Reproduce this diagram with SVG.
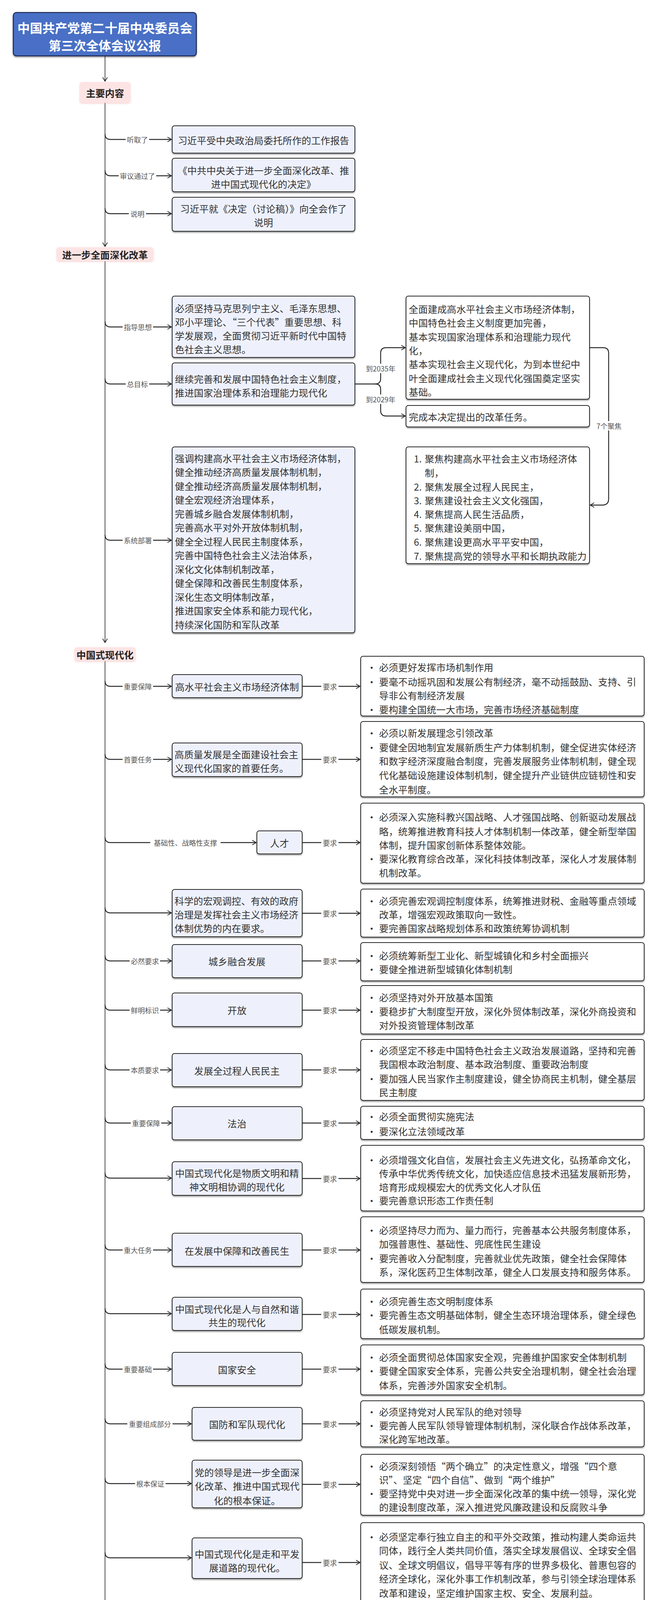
<svg xmlns="http://www.w3.org/2000/svg" width="1688" height="4959" viewBox="0 0 1688 4959">
<defs>
<style>
.t{font-family:"Noto Sans CJK SC","Noto Sans CJK JP",sans-serif;font-size:24.4px;fill:#333;dominant-baseline:central}
.c{text-anchor:middle}
.b{font-weight:bold;fill:#222}
.lb{font-family:"Noto Sans CJK SC","Noto Sans CJK JP",sans-serif;font-size:18px;fill:#555;dominant-baseline:central;text-anchor:middle}
.bx{fill:#eef1fc;stroke:#2a2a2a;stroke-width:2}
.wb{fill:#ffffff;stroke:#2a2a2a;stroke-width:2}
.pk{fill:#fde4e4}
.tr{fill:none;stroke:#222;stroke-width:1.6}
.br{fill:none;stroke:#2a2a2a;stroke-width:2.4}
.lbg{fill:#ffffff}
</style>
<filter id="sh" x="-5%" y="-10%" width="110%" height="130%"><feDropShadow dx="0" dy="3" stdDeviation="1.5" flood-color="#000" flood-opacity="0.35"/></filter>
<filter id="shp" x="-10%" y="-20%" width="120%" height="140%"><feDropShadow dx="0" dy="2" stdDeviation="2" flood-color="#f0b0b0" flood-opacity="0.6"/></filter>
<marker id="ar" viewBox="0 0 12 14" refX="11" refY="7" markerWidth="12" markerHeight="14" markerUnits="userSpaceOnUse" orient="auto"><path d="M1,1 L11,7 L1,13" fill="none" stroke="#222" stroke-width="1.8"/></marker>
</defs>
<rect width="1688" height="4959" fill="#ffffff"/>

<g id="connectors">
<path class="tr" d="M269,143 L269,208" marker-end="url(#ar)"/>
<path class="tr" d="M269,263 L269,631" marker-end="url(#ar)"/>
<path class="tr" d="M269,668 L269,1645" marker-end="url(#ar)"/>
<path class="tr" d="M269,1692 L269,4181" marker-end="url(#ar)"/>
<path class="tr" d="M269,4217 L269,4412" marker-end="url(#ar)"/>
<path class="tr" d="M269,4449 L269,4751" marker-end="url(#ar)"/>
<path class="br" d="M269,4788 L269,4824 Q269,4838 283,4838 L489,4838" marker-end="url(#ar)"/>
<path class="br" d="M269,343 Q269,357 283,357 L439,357" marker-end="url(#ar)"/>
<path class="br" d="M269,436 Q269,450 283,450 L439,450" marker-end="url(#ar)"/>
<path class="br" d="M269,533 Q269,547 283,547 L439,547" marker-end="url(#ar)"/>
<path class="br" d="M269,823 Q269,837 283,837 L439,837" marker-end="url(#ar)"/>
<path class="br" d="M269,969 Q269,983 283,983 L439,983" marker-end="url(#ar)"/>
<path class="br" d="M269,1369 Q269,1383 283,1383 L439,1383" marker-end="url(#ar)"/>
<path class="br" d="M909,983 L961,983 Q975,983 975,969 L975,904 Q975,890 989,890 L1038,890" marker-end="url(#ar)"/>
<path class="br" d="M961,983 Q975,983 975,997 L975,1051 Q975,1065 989,1065 L1038,1065" marker-end="url(#ar)"/>
<path class="br" d="M1510,890 L1545,890 Q1559,890 1559,904 L1559,1277 Q1559,1293 1543,1293 L1512,1293" marker-end="url(#ar)"/>
<path class="br" d="M269,1743 Q269,1757 283,1757 L439,1757" marker-end="url(#ar)"/>
<path class="br" d="M269,1930 Q269,1944 283,1944 L439,1944" marker-end="url(#ar)"/>
<path class="br" d="M269,2143 Q269,2157 283,2157 L656,2157" marker-end="url(#ar)"/>
<path class="br" d="M269,2323 Q269,2337 283,2337 L439,2337" marker-end="url(#ar)"/>
<path class="br" d="M269,2446 Q269,2460 283,2460 L439,2460" marker-end="url(#ar)"/>
<path class="br" d="M269,2572 Q269,2586 283,2586 L439,2586" marker-end="url(#ar)"/>
<path class="br" d="M269,2725 Q269,2739 283,2739 L439,2739" marker-end="url(#ar)"/>
<path class="br" d="M269,2861 Q269,2875 283,2875 L439,2875" marker-end="url(#ar)"/>
<path class="br" d="M269,3002 Q269,3016 283,3016 L439,3016" marker-end="url(#ar)"/>
<path class="br" d="M269,3186 Q269,3200 283,3200 L439,3200" marker-end="url(#ar)"/>
<path class="br" d="M269,3349 Q269,3363 283,3363 L439,3363" marker-end="url(#ar)"/>
<path class="br" d="M269,3491 Q269,3505 283,3505 L439,3505" marker-end="url(#ar)"/>
<path class="br" d="M269,3631 Q269,3645 283,3645 L490,3645" marker-end="url(#ar)"/>
<path class="br" d="M269,3784 Q269,3798 283,3798 L490,3798" marker-end="url(#ar)"/>
<path class="br" d="M269,3974 Q269,3988 283,3988 L490,3988" marker-end="url(#ar)"/>
<path class="br" d="M347,4200 L490,4200" marker-end="url(#ar)"/>
<path class="br" d="M269,4534 Q269,4548 283,4548 L489,4548" marker-end="url(#ar)"/>
<path class="br" d="M774,1757 L922,1757" marker-end="url(#ar)"/>
<path class="br" d="M774,1944 L922,1944" marker-end="url(#ar)"/>
<path class="br" d="M774,2157 L922,2157" marker-end="url(#ar)"/>
<path class="br" d="M774,2338 L922,2338" marker-end="url(#ar)"/>
<path class="br" d="M774,2460 L922,2460" marker-end="url(#ar)"/>
<path class="br" d="M774,2586 L922,2586" marker-end="url(#ar)"/>
<path class="br" d="M774,2739 L922,2739" marker-end="url(#ar)"/>
<path class="br" d="M774,2875 L922,2875" marker-end="url(#ar)"/>
<path class="br" d="M774,3017 L922,3017" marker-end="url(#ar)"/>
<path class="br" d="M774,3200 L922,3200" marker-end="url(#ar)"/>
<path class="br" d="M774,3365 L922,3365" marker-end="url(#ar)"/>
<path class="br" d="M774,3505 L922,3505" marker-end="url(#ar)"/>
<path class="br" d="M774,3645 L922,3645" marker-end="url(#ar)"/>
<path class="br" d="M774,3800 L922,3800" marker-end="url(#ar)"/>
<path class="br" d="M774,4000 L922,4000" marker-end="url(#ar)"/>
<path class="br" d="M774,4198 L922,4198" marker-end="url(#ar)"/>
<rect class="lbg" x="322" y="345" width="60" height="24"/><text class="lb" x="352" y="357">听取了</text>
<rect class="lbg" x="304" y="438" width="96" height="24"/><text class="lb" x="352" y="450">审议通过了</text>
<rect class="lbg" x="330" y="535" width="44" height="24"/><text class="lb" x="352" y="547">说明</text>
<rect class="lbg" x="314" y="825" width="78" height="24"/><text class="lb" x="353" y="837">指导思想</text>
<rect class="lbg" x="322" y="971" width="60" height="24"/><text class="lb" x="352" y="983">总目标</text>
<rect class="lbg" x="314" y="1371" width="78" height="24"/><text class="lb" x="353" y="1383">系统部署</text>
<rect class="lbg" x="935" y="931" width="80" height="24"/><text class="lb" x="975" y="943">到2035年</text>
<rect class="lbg" x="935" y="1010" width="80" height="24"/><text class="lb" x="975" y="1022">到2029年</text>
<rect class="lbg" x="1524" y="1078" width="72" height="24"/><text class="lb" x="1560" y="1090">7个聚焦</text>
<rect class="lbg" x="314" y="1745" width="78" height="24"/><text class="lb" x="353" y="1757">重要保障</text>
<rect class="lbg" x="314" y="1932" width="78" height="24"/><text class="lb" x="353" y="1944">首要任务</text>
<rect class="lbg" x="385" y="2145" width="180" height="24"/><text class="lb" x="475" y="2157">基础性、战略性支撑</text>
<rect class="lbg" x="332" y="2448" width="78" height="24"/><text class="lb" x="371" y="2460">必然要求</text>
<rect class="lbg" x="332" y="2574" width="78" height="24"/><text class="lb" x="371" y="2586">鲜明标识</text>
<rect class="lbg" x="332" y="2727" width="78" height="24"/><text class="lb" x="371" y="2739">本质要求</text>
<rect class="lbg" x="335" y="2863" width="78" height="24"/><text class="lb" x="374" y="2875">重要保障</text>
<rect class="lbg" x="314" y="3188" width="78" height="24"/><text class="lb" x="353" y="3200">重大任务</text>
<rect class="lbg" x="314" y="3493" width="78" height="24"/><text class="lb" x="353" y="3505">重要基础</text>
<rect class="lbg" x="326" y="3633" width="116" height="24"/><text class="lb" x="384" y="3645">重要组成部分</text>
<rect class="lbg" x="346" y="3786" width="78" height="24"/><text class="lb" x="385" y="3798">根本保证</text>
<rect class="lbg" x="366" y="4536" width="44" height="24"/><text class="lb" x="388" y="4548">要求</text>
<g id="req-labels">
<rect class="lbg" x="823" y="1745" width="44" height="24"/><text class="lb" x="845" y="1757">要求</text>
<rect class="lbg" x="823" y="1932" width="44" height="24"/><text class="lb" x="845" y="1944">要求</text>
<rect class="lbg" x="823" y="2145" width="44" height="24"/><text class="lb" x="845" y="2157">要求</text>
<rect class="lbg" x="823" y="2326" width="44" height="24"/><text class="lb" x="845" y="2338">要求</text>
<rect class="lbg" x="823" y="2448" width="44" height="24"/><text class="lb" x="845" y="2460">要求</text>
<rect class="lbg" x="823" y="2574" width="44" height="24"/><text class="lb" x="845" y="2586">要求</text>
<rect class="lbg" x="823" y="2727" width="44" height="24"/><text class="lb" x="845" y="2739">要求</text>
<rect class="lbg" x="823" y="2863" width="44" height="24"/><text class="lb" x="845" y="2875">要求</text>
<rect class="lbg" x="823" y="3005" width="44" height="24"/><text class="lb" x="845" y="3017">要求</text>
<rect class="lbg" x="823" y="3188" width="44" height="24"/><text class="lb" x="845" y="3200">要求</text>
<rect class="lbg" x="823" y="3353" width="44" height="24"/><text class="lb" x="845" y="3365">要求</text>
<rect class="lbg" x="823" y="3493" width="44" height="24"/><text class="lb" x="845" y="3505">要求</text>
<rect class="lbg" x="823" y="3633" width="44" height="24"/><text class="lb" x="845" y="3645">要求</text>
<rect class="lbg" x="823" y="3788" width="44" height="24"/><text class="lb" x="845" y="3800">要求</text>
<rect class="lbg" x="823" y="3988" width="44" height="24"/><text class="lb" x="845" y="4000">要求</text>
<rect class="lbg" x="823" y="4186" width="44" height="24"/><text class="lb" x="845" y="4198">要求</text>
</g>
</g>

<g id="title">
<rect x="34" y="32" width="469" height="111" rx="8" fill="#4a70c6" stroke="#1e2a55" stroke-width="2.5" filter="url(#sh)"/>
<text class="t c" x="268.5" y="70" style="font-size:32px;font-weight:bold;fill:#fff">中国共产党第二十届中央委员会</text>
<text class="t c" x="268.5" y="115" style="font-size:32px;font-weight:bold;fill:#fff">第三次全体会议公报</text>
</g>

<g id="n-main"><rect class="pk" x="204" y="210" width="130" height="53" rx="6" filter="url(#shp)"/><text class="t c b" x="269" y="237">主要内容</text></g>
<g id="n-m1"><rect class="bx" x="441" y="322" width="468" height="70" rx="6" filter="url(#sh)"/><text class="t c" x="675" y="358">习近平受中央政治局委托所作的工作报告</text></g>
<g id="n-m2"><rect class="bx" x="441" y="405" width="468" height="86" rx="6" filter="url(#sh)"/><text class="t c" x="675" y="435">《中共中央关于进一步全面深化改革、推</text><text class="t c" x="675" y="470">进中国式现代化的决定》</text></g>
<g id="n-m3"><rect class="bx" x="441" y="505" width="468" height="87" rx="6" filter="url(#sh)"/><text class="t c" x="675" y="533">习近平就《决定（讨论稿）》向全会作了</text><text class="t c" x="675" y="568">说明</text></g>

<g id="n-reform"><rect class="pk" x="145" y="633" width="248" height="35" rx="6" filter="url(#shp)"/><text class="t c b" x="269" y="651">进一步全面深化改革</text></g>
<g id="n-r1"><rect class="bx" x="441" y="758" width="468" height="157" rx="6" filter="url(#sh)"/>
<text class="t" x="448" y="788">必须坚持马克思列宁主义、毛泽东思想、</text>
<text class="t" x="448" y="823">邓小平理论、“三个代表”重要思想、科</text>
<text class="t" x="448" y="858">学发展观，全面贯彻习近平新时代中国特</text>
<text class="t" x="448" y="893">色社会主义思想。</text></g>
<g id="n-r2"><rect class="bx" x="441" y="929" width="468" height="108" rx="6" filter="url(#sh)"/>
<text class="t" x="448" y="969">继续完善和发展中国特色社会主义制度，</text>
<text class="t" x="448" y="1004">推进国家治理体系和治理能力现代化</text></g>
<g id="n-r3"><rect class="bx" x="441" y="1144" width="468" height="476" rx="6" filter="url(#sh)"/>
<text class="t" x="448" y="1172">强调构建高水平社会主义市场经济体制，</text>
<text class="t" x="448" y="1207.5">健全推动经济高质量发展体制机制，</text>
<text class="t" x="448" y="1243">健全推动经济高质量发展体制机制，</text>
<text class="t" x="448" y="1278.5">健全宏观经济治理体系，</text>
<text class="t" x="448" y="1314">完善城乡融合发展体制机制，</text>
<text class="t" x="448" y="1349.5">完善高水平对外开放体制机制，</text>
<text class="t" x="448" y="1385">健全全过程人民民主制度体系，</text>
<text class="t" x="448" y="1420.5">完善中国特色社会主义法治体系，</text>
<text class="t" x="448" y="1456">深化文化体制机制改革，</text>
<text class="t" x="448" y="1491.5">健全保障和改善民生制度体系，</text>
<text class="t" x="448" y="1527">深化生态文明体制改革，</text>
<text class="t" x="448" y="1562.5">推进国家安全体系和能力现代化，</text>
<text class="t" x="448" y="1598">持续深化国防和军队改革</text></g>
<g id="n-2035"><rect class="wb" x="1040" y="758" width="470" height="264" rx="6" filter="url(#sh)"/>
<text class="t" x="1047" y="790">全面建成高水平社会主义市场经济体制，</text>
<text class="t" x="1047" y="825">中国特色社会主义制度更加完善，</text>
<text class="t" x="1047" y="861">基本实现国家治理体系和治理能力现代</text>
<text class="t" x="1047" y="896">化，</text>
<text class="t" x="1047" y="931">基本实现社会主义现代化，为到本世纪中</text>
<text class="t" x="1047" y="967">叶全面建成社会主义现代化强国奠定坚实</text>
<text class="t" x="1047" y="1002">基础。</text></g>
<g id="n-2029"><rect class="wb" x="1040" y="1038" width="470" height="55" rx="6" filter="url(#sh)"/><text class="t" x="1047" y="1066">完成本决定提出的改革任务。</text></g>
<g id="n-7"><rect class="wb" x="1040" y="1144" width="470" height="299" rx="6" filter="url(#sh)"/>
<text class="t" x="1060" y="1173">1.</text><text class="t" x="1088" y="1173">聚焦构建高水平社会主义市场经济体</text>
<text class="t" x="1088" y="1209">制，</text>
<text class="t" x="1060" y="1245">2.</text><text class="t" x="1088" y="1245">聚焦发展全过程人民民主，</text>
<text class="t" x="1060" y="1280">3.</text><text class="t" x="1088" y="1280">聚焦建设社会主义文化强国，</text>
<text class="t" x="1060" y="1315">4.</text><text class="t" x="1088" y="1315">聚焦提高人民生活品质，</text>
<text class="t" x="1060" y="1350">5.</text><text class="t" x="1088" y="1350">聚焦建设美丽中国，</text>
<text class="t" x="1060" y="1386">6.</text><text class="t" x="1088" y="1386">聚焦建设更高水平平安中国，</text>
<text class="t" x="1060" y="1422">7.</text><text class="t" x="1088" y="1422">聚焦提高党的领导水平和长期执政能力</text></g>

<g id="n-modern"><rect class="pk" x="191" y="1657" width="156" height="35" rx="6" filter="url(#shp)"/><text class="t c b" x="269" y="1675">中国式现代化</text></g>

<g id="n-c1"><rect class="bx" x="441" y="1727" width="333" height="59" rx="6" filter="url(#sh)"/><text class="t c" x="607" y="1757">高水平社会主义市场经济体制</text></g>
<g id="n-c1r"><rect class="wb" x="924" y="1680" width="726" height="153" rx="6" filter="url(#sh)"/>
<text class="t c" x="952" y="1707">•</text><text class="t" x="971" y="1707">必须更好发挥市场机制作用</text>
<text class="t c" x="952" y="1744">•</text><text class="t" x="971" y="1744">要毫不动摇巩固和发展公有制经济，毫不动摇鼓励、支持、引</text>
<text class="t" x="971" y="1779">导非公有制经济发展</text>
<text class="t c" x="952" y="1815">•</text><text class="t" x="971" y="1815">要构建全国统一大市场，完善市场经济基础制度</text></g>

<g id="n-c2"><rect class="bx" x="441" y="1902" width="333" height="86" rx="6" filter="url(#sh)"/><text class="t" x="447" y="1930">高质量发展是全面建设社会主</text><text class="t" x="447" y="1965">义现代化国家的首要任务。</text></g>
<g id="n-c2r"><rect class="wb" x="924" y="1847" width="726" height="193" rx="6" filter="url(#sh)"/>
<text class="t c" x="952" y="1875">•</text><text class="t" x="971" y="1875">必须以新发展理念引领改革</text>
<text class="t c" x="952" y="1912">•</text><text class="t" x="971" y="1912">要健全因地制宜发展新质生产力体制机制，健全促进实体经济</text>
<text class="t" x="971" y="1947">和数字经济深度融合制度，完善发展服务业体制机制，健全现</text>
<text class="t" x="971" y="1983">代化基础设施建设体制机制，健全提升产业链供应链韧性和安</text>
<text class="t" x="971" y="2020">全水平制度。</text></g>

<g id="n-c3"><rect class="bx" x="658" y="2127" width="116" height="59" rx="6" filter="url(#sh)"/><text class="t c" x="716" y="2157">人才</text></g>
<g id="n-c3r"><rect class="wb" x="924" y="2056" width="726" height="205" rx="6" filter="url(#sh)"/>
<text class="t c" x="952" y="2090">•</text><text class="t" x="971" y="2090">必须深入实施科教兴国战略、人才强国战略、创新驱动发展战</text>
<text class="t" x="971" y="2127">略，统筹推进教育科技人才体制机制一体改革，健全新型举国</text>
<text class="t" x="971" y="2162">体制，提升国家创新体系整体效能。</text>
<text class="t c" x="952" y="2197">•</text><text class="t" x="971" y="2197">要深化教育综合改革，深化科技体制改革，深化人才发展体制</text>
<text class="t" x="971" y="2233">机制改革。</text></g>

<g id="n-c4"><rect class="bx" x="441" y="2277" width="333" height="121" rx="6" filter="url(#sh)"/><text class="t" x="447" y="2305">科学的宏观调控、有效的政府</text><text class="t" x="447" y="2340">治理是发挥社会主义市场经济</text><text class="t" x="447" y="2375">体制优势的内在要求。</text></g>
<g id="n-c4r"><rect class="wb" x="924" y="2276" width="726" height="123" rx="6" filter="url(#sh)"/>
<text class="t c" x="952" y="2305">•</text><text class="t" x="971" y="2305">必须完善宏观调控制度体系，统筹推进财税、金融等重点领域</text>
<text class="t" x="971" y="2340">改革，增强宏观政策取向一致性。</text>
<text class="t c" x="952" y="2375">•</text><text class="t" x="971" y="2375">要完善国家战略规划体系和政策统筹协调机制</text></g>

<g id="n-c5"><rect class="bx" x="441" y="2418" width="333" height="85" rx="6" filter="url(#sh)"/><text class="t c" x="607" y="2460">城乡融合发展</text></g>
<g id="n-c5r"><rect class="wb" x="924" y="2413" width="726" height="98" rx="6" filter="url(#sh)"/>
<text class="t c" x="952" y="2445">•</text><text class="t" x="971" y="2445">必须统筹新型工业化、新型城镇化和乡村全面振兴</text>
<text class="t c" x="952" y="2480">•</text><text class="t" x="971" y="2480">要健全推进新型城镇化体制机制</text></g>

<g id="n-c6"><rect class="bx" x="441" y="2542" width="333" height="86" rx="6" filter="url(#sh)"/><text class="t c" x="607" y="2585">开放</text></g>
<g id="n-c6r"><rect class="wb" x="924" y="2523" width="726" height="124" rx="6" filter="url(#sh)"/>
<text class="t c" x="952" y="2552">•</text><text class="t" x="971" y="2552">必须坚持对外开放基本国策</text>
<text class="t c" x="952" y="2588">•</text><text class="t" x="971" y="2588">要稳步扩大制度型开放，深化外贸体制改革，深化外商投资和</text>
<text class="t" x="971" y="2623">对外投资管理体制改革</text></g>

<g id="n-c7"><rect class="bx" x="441" y="2697" width="333" height="85" rx="6" filter="url(#sh)"/><text class="t c" x="607" y="2740">发展全过程人民民主</text></g>
<g id="n-c7r"><rect class="wb" x="924" y="2661" width="726" height="156" rx="6" filter="url(#sh)"/>
<text class="t c" x="952" y="2688">•</text><text class="t" x="971" y="2688">必须坚定不移走中国特色社会主义政治发展道路，坚持和完善</text>
<text class="t" x="971" y="2723">我国根本政治制度、基本政治制度、重要政治制度</text>
<text class="t c" x="952" y="2760">•</text><text class="t" x="971" y="2760">要加强人民当家作主制度建设，健全协商民主机制，健全基层</text>
<text class="t" x="971" y="2795">民主制度</text></g>

<g id="n-c8"><rect class="bx" x="441" y="2833" width="333" height="85" rx="6" filter="url(#sh)"/><text class="t c" x="607" y="2875">法治</text></g>
<g id="n-c8r"><rect class="wb" x="924" y="2832" width="726" height="85" rx="6" filter="url(#sh)"/>
<text class="t c" x="952" y="2857">•</text><text class="t" x="971" y="2857">必须全面贯彻实施宪法</text>
<text class="t c" x="952" y="2895">•</text><text class="t" x="971" y="2895">要深化立法领域改革</text></g>

<g id="n-c9"><rect class="bx" x="441" y="2974" width="333" height="86" rx="6" filter="url(#sh)"/><text class="t c" x="607" y="3002">中国式现代化是物质文明和精</text><text class="t c" x="607" y="3037">神文明相协调的现代化</text></g>
<g id="n-c9r"><rect class="wb" x="924" y="2932" width="726" height="168" rx="6" filter="url(#sh)"/>
<text class="t c" x="952" y="2968">•</text><text class="t" x="971" y="2968">必须增强文化自信，发展社会主义先进文化，弘扬革命文化，</text>
<text class="t" x="971" y="3003">传承中华优秀传统文化，加快适应信息技术迅猛发展新形势，</text>
<text class="t" x="971" y="3038">培育形成规模宏大的优秀文化人才队伍</text>
<text class="t c" x="952" y="3072">•</text><text class="t" x="971" y="3072">要完善意识形态工作责任制</text></g>

<g id="n-c10"><rect class="bx" x="441" y="3157" width="333" height="85" rx="6" filter="url(#sh)"/><text class="t c" x="607" y="3201">在发展中保障和改善民生</text></g>
<g id="n-c10r"><rect class="wb" x="924" y="3115" width="726" height="168" rx="6" filter="url(#sh)"/>
<text class="t c" x="952" y="3148">•</text><text class="t" x="971" y="3148">必须坚持尽力而为、量力而行，完善基本公共服务制度体系，</text>
<text class="t" x="971" y="3183">加强普惠性、基础性、兜底性民生建设</text>
<text class="t c" x="952" y="3220">•</text><text class="t" x="971" y="3220">要完善收入分配制度，完善就业优先政策，健全社会保障体</text>
<text class="t" x="971" y="3255">系，深化医药卫生体制改革，健全人口发展支持和服务体系。</text></g>

<g id="n-c11"><rect class="bx" x="441" y="3321" width="333" height="85" rx="6" filter="url(#sh)"/><text class="t c" x="607" y="3350">中国式现代化是人与自然和谐</text><text class="t c" x="607" y="3384">共生的现代化</text></g>
<g id="n-c11r"><rect class="wb" x="924" y="3300" width="726" height="127" rx="6" filter="url(#sh)"/>
<text class="t c" x="952" y="3330">•</text><text class="t" x="971" y="3330">必须完善生态文明制度体系</text>
<text class="t c" x="952" y="3365">•</text><text class="t" x="971" y="3365">要完善生态文明基础体制，健全生态环境治理体系，健全绿色</text>
<text class="t" x="971" y="3402">低碳发展机制。</text></g>

<g id="n-c12"><rect class="bx" x="441" y="3462" width="333" height="85" rx="6" filter="url(#sh)"/><text class="t c" x="607" y="3505">国家安全</text></g>
<g id="n-c12r"><rect class="wb" x="924" y="3443" width="726" height="128" rx="6" filter="url(#sh)"/>
<text class="t c" x="952" y="3473">•</text><text class="t" x="971" y="3473">必须全面贯彻总体国家安全观，完善维护国家安全体制机制</text>
<text class="t c" x="952" y="3508">•</text><text class="t" x="971" y="3508">要健全国家安全体系，完善公共安全治理机制，健全社会治理</text>
<text class="t" x="971" y="3545">体系，完善涉外国家安全机制。</text></g>

<g id="n-c13"><rect class="bx" x="492" y="3603" width="282" height="84" rx="6" filter="url(#sh)"/><text class="t c" x="633" y="3645">国防和军队现代化</text></g>
<g id="n-c13r"><rect class="wb" x="924" y="3586" width="726" height="118" rx="6" filter="url(#sh)"/>
<text class="t c" x="952" y="3613">•</text><text class="t" x="971" y="3613">必须坚持党对人民军队的绝对领导</text>
<text class="t c" x="952" y="3648">•</text><text class="t" x="971" y="3648">要完善人民军队领导管理体制机制，深化联合作战体系改革，</text>
<text class="t" x="971" y="3683">深化跨军地改革。</text></g>

<g id="n-c14"><rect class="bx" x="492" y="3738" width="282" height="122" rx="6" filter="url(#sh)"/><text class="t c" x="633" y="3768">党的领导是进一步全面深</text><text class="t c" x="633" y="3803">化改革、推进中国式现代</text><text class="t c" x="633" y="3840">化的根本保证。</text></g>
<g id="n-c14r"><rect class="wb" x="924" y="3723" width="726" height="156" rx="6" filter="url(#sh)"/>
<text class="t c" x="952" y="3752">•</text><text class="t" x="971" y="3752">必须深刻领悟“两个确立”的决定性意义，增强“四个意</text>
<text class="t" x="971" y="3787">识”、坚定“四个自信”、做到“两个维护”</text>
<text class="t c" x="952" y="3822">•</text><text class="t" x="971" y="3822">要坚持党中央对进一步全面深化改革的集中统一领导，深化党</text>
<text class="t" x="971" y="3857">的建设制度改革，深入推进党风廉政建设和反腐败斗争</text></g>

<g id="n-c15"><rect class="bx" x="492" y="3937" width="282" height="104" rx="6" filter="url(#sh)"/><text class="t c" x="633" y="3977">中国式现代化是走和平发</text><text class="t c" x="633" y="4012">展道路的现代化。</text></g>
<g id="n-c15r"><rect class="wb" x="924" y="3898" width="726" height="206" rx="6" filter="url(#sh)"/>
<text class="t c" x="952" y="3933">•</text><text class="t" x="971" y="3933">必须坚定奉行独立自主的和平外交政策，推动构建人类命运共</text>
<text class="t" x="971" y="3968">同体，践行全人类共同价值，落实全球发展倡议、全球安全倡</text>
<text class="t" x="971" y="4005">议、全球文明倡议，倡导平等有序的世界多极化、普惠包容的</text>
<text class="t" x="971" y="4040">经济全球化，深化外事工作机制改革，参与引领全球治理体系</text>
<text class="t" x="971" y="4077">改革和建设，坚定维护国家主权、安全、发展利益。</text></g>

<g id="n-task"><rect class="pk" x="191" y="4183" width="156" height="35" rx="6" filter="url(#shp)"/><text class="t c b" x="269" y="4200">重大政治任务</text></g>
<g id="n-t1"><rect class="bx" x="492" y="4122" width="282" height="157" rx="6" filter="url(#sh)"/><text class="t c" x="633" y="4152">学习好贯彻好全会精神是</text><text class="t c" x="633" y="4187">当前和今后一个时期全党</text><text class="t c" x="633" y="4222">全国的一项重大政治任</text><text class="t c" x="633" y="4257">务。</text></g>
<g id="n-t1r"><rect class="wb" x="924" y="4122" width="726" height="148" rx="6" filter="url(#sh)"/>
<text class="t c" x="952" y="4150">•</text><text class="t" x="971" y="4150">要深入学习领会全会精神，深刻领会和把握进一步全面深化改</text>
<text class="t" x="971" y="4185">革的主题、重大原则、重大举措、根本保证。</text>
<text class="t c" x="952" y="4220">•</text><text class="t" x="971" y="4220">全党上下要齐心协力抓好《决定》贯彻落实，把进一步全面深</text>
<text class="t" x="971" y="4255">化改革的战略部署转化为推进中国式现代化的强大力量。</text></g>

<g id="n-goal"><rect class="pk" x="113" y="4414" width="313" height="35" rx="6" filter="url(#shp)"/><text class="t c b" x="269.5" y="4432">实现全年经济社会发展目标</text></g>
<g id="n-g1"><rect class="bx" x="491" y="4359" width="1159" height="377" rx="6" filter="url(#sh)"/>
<text class="t c" x="518" y="4408">•</text><text class="t" x="540" y="4408">要按照党中央关于经济工作的决策部署，落实好宏观政策，积极扩大国内需求，因地制宜发展新质生产</text>
<text class="t" x="540" y="4445">力，加快培育外贸新动能，扎实推进绿色低碳发展</text>
<text class="t c" x="518" y="4480">•</text><text class="t" x="540" y="4480">要总结评估“十四五”规划落实情况</text>
<text class="t c" x="518" y="4515">•</text><text class="t" x="540" y="4515">要统筹好发展和安全</text>
<text class="t c" x="518" y="4549">•</text><text class="t" x="540" y="4549">要加强舆论引导，有效防范化解意识形态风险。</text>
<text class="t c" x="518" y="4585">•</text><text class="t" x="540" y="4585">要有效应对外部风险挑战</text>
<text class="t c" x="518" y="4622">•</text><text class="t" x="540" y="4622">要结合学习宣传贯彻全会精神，抓好党的创新理论武装，提高全党马克思主义水平和现代化建设能力。</text>
<text class="t c" x="518" y="4657">•</text><text class="t" x="540" y="4657">要健全全面从严治党体系</text>
<text class="t c" x="518" y="4693">•</text><text class="t" x="540" y="4693">要巩固拓展主题教育成果，深化党纪学习教育，维护党的团结统一</text></g>

<g id="n-person"><rect class="pk" x="215" y="4753" width="110" height="35" rx="6" filter="url(#shp)"/><text class="t c b" x="270" y="4770">人事变动</text></g>
<g id="n-p1"><rect class="bx" x="491" y="4753" width="1159" height="171" rx="6" filter="url(#sh)"/>
<text class="t c" x="518" y="4788">•</text><text class="t" x="540" y="4788">决定递补中央委员会候补委员丁向群、于立军、于吉红为中央委员会委员。</text>
<text class="t c" x="518" y="4824">•</text><text class="t" x="540" y="4824">接受秦刚同志辞职申请，免去秦刚同志中央委员会委员职务。</text>
<text class="t c" x="518" y="4862">•</text><text class="t" x="540" y="4862">审议并通过了中共中央军事委员会关于李尚福、李玉超、孙金明严重违纪违法问题的审查报告，确认中</text>
<text class="t" x="540" y="4898">央政治局之前作出的给予李尚福、李玉超、孙金明开除党籍的处分。</text></g>
</svg>
